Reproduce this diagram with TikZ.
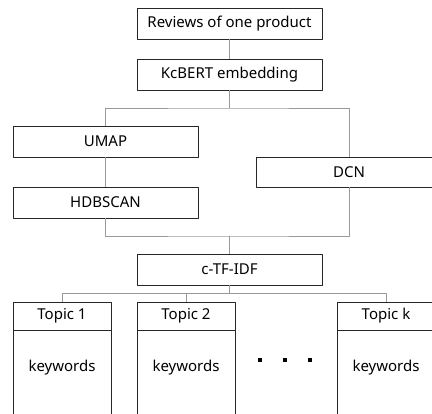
\documentclass[tikz,border=0pt]{standalone}
\usepackage{fontspec}
\setmainfont{Noto Sans}
\begin{document}
\begin{tikzpicture}[x=1pt,y=-1pt,line join=round,font=\fontsize{15}{18}\selectfont,
	box/.style={draw=black!85,line width=0.8pt,fill=white,inner sep=0pt,minimum height=31pt},
	link/.style={draw=black!40,line width=0.8pt}]
	\clip (0,0) rectangle (432,414);
	% pipeline
	\node[box,minimum width=185pt] (rev) at (229.5,23.5) {Reviews of one product};
	\node[box,minimum width=185pt] (emb) at (229.5,74.5) {KcBERT embedding};
	\node[box,minimum width=185pt] (umap) at (105.5,141.5) {UMAP};
	\node[box,minimum width=185pt] (hdb) at (105.5,202.5) {HDBSCAN};
	\node[box,minimum width=185pt,minimum height=30pt] (dcn) at (349,172) {DCN};
	\node[box,minimum width=185pt] (ctf) at (229.5,269.5) {c-TF-IDF};
	\path
	(229.5,108) coordinate (split)
	(229.5,236) coordinate (join)
	(229.5,293) coordinate (fan)
	;
	\draw[link]
	(rev)--(emb)
	(emb.south)--(split)
	(umap)--(hdb)
	(join)--(ctf.north)
	(ctf.south)--(fan)
	;
	\draw[link] (umap.north)|-(split)-|(dcn.north);
	\draw[link] (hdb.south)|-(join)-|(dcn.south);
	% topics
	\foreach \n/\x/\t in {1/62/Topic 1,2/186/Topic 2,k/386/Topic k}{
		\node[box,minimum width=98pt,minimum height=28pt] (t\n) at (\x,316) {\t};
		\node[box,minimum width=98pt,minimum height=90pt,anchor=north] (b\n) at (t\n.south) {};
		\node (kw\n) at (\x,368) {keywords};
		\draw[link] (t\n.north)|-(fan);
	}
	\foreach \x in {260,285,310} \fill (\x-1.6,358.4) rectangle (\x+1.6,361.6);
\end{tikzpicture}
\end{document}
